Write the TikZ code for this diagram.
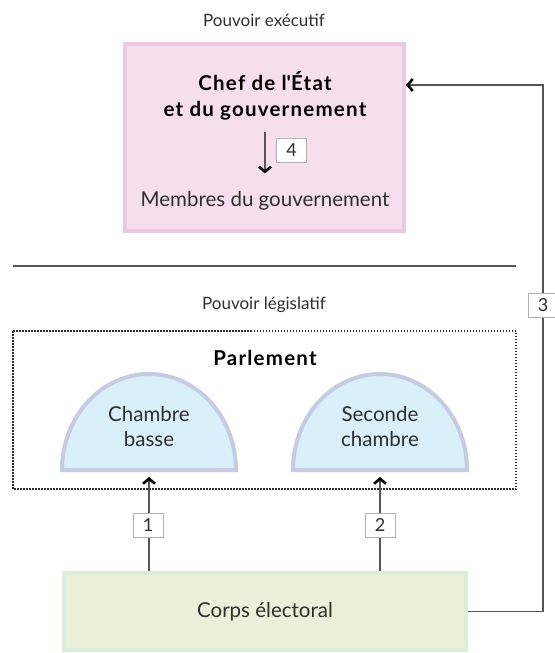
\documentclass[tikz,border=0pt]{standalone}
\usepackage{fontspec}
\setmainfont{Lato}
\usetikzlibrary{arrows.meta}

\definecolor{inkgray}{HTML}{2E2E2E}
\definecolor{linegray}{HTML}{575757}
\definecolor{execfill}{HTML}{F7DEEC}
\definecolor{execedge}{HTML}{EDC8E1}
\definecolor{chamberfill}{HTML}{D9EFF9}
\definecolor{chamberedge}{HTML}{C7CAE3}
\definecolor{votefill}{HTML}{EDF0D8}
\definecolor{voteedge}{HTML}{DCEDD9}

\tikzset{
  link/.style={draw=linegray, line width=1.3pt},
  votearrow/.style={link, -{Straight Barb[length=5pt, width=12pt, line width=2.6pt, color=black]}},
  numbox/.style={draw=gray!60, fill=white, line width=1pt, minimum width=30pt,
    minimum height=24pt, inner sep=0pt, text=inkgray, font=\fontsize{18}{18}\selectfont},
  powerlabel/.style={text=inkgray, font=\fontsize{17}{17}\selectfont},
  maintext/.style={text=inkgray, align=center, inner sep=0pt, font=\fontsize{20.5}{25}\selectfont},
  boldtext/.style={maintext, text=black, font=\fontsize{20.5}{26}\selectfont\bfseries\addfontfeature{LetterSpace=6}}
}

\begin{document}
\begin{tikzpicture}[x=1pt, y=-1pt]
  \useasboundingbox (0,0) rectangle (554,653);

  % Executive power
  \node[powerlabel] (execlabel) at (264,20) {Pouvoir exécutif};
  \node[draw=execedge, fill=execfill, line width=4pt, minimum width=279pt,
    minimum height=187pt] (exec) at (264.5,137.5) {};
  \node[boldtext] (chef) at (265,96) {Chef de l\textquotesingle État\\et du gouvernement};
  \node[maintext] (membres) at (265,201) {Membres du gouvernement};
  \draw[votearrow, shorten <=11pt, shorten >=18pt] (chef.south) -- (chef.south |- membres.north);
  \node[numbox] (n4) at (291.5,150) {4};

  % separator
  \draw[draw=linegray, line width=2pt] (13,266) -- (516,266);

  % Legislative power
  \node[powerlabel] (leglabel) at (264,305) {Pouvoir législatif};
  \draw[draw=inkgray, line width=1.6pt, dash pattern=on 1.5pt off 1.5pt]
    (13,331) rectangle (516,489); % Parlement frame
  \node[boldtext] (parlement) at (265,358) {Parlement};

  \filldraw[draw=chamberedge, fill=chamberfill, line width=4pt]
    (62,470) arc[start angle=180, end angle=360, x radius=87, y radius=96] -- cycle;
  \node[maintext] (basse) at (149,427) {Chambre\\basse};
  \coordinate (basse-foot) at (149,477);

  \filldraw[draw=chamberedge, fill=chamberfill, line width=4pt]
    (293,470) arc[start angle=180, end angle=360, x radius=87, y radius=96] -- cycle;
  \node[maintext] (seconde) at (380,427) {Seconde\\chambre};
  \coordinate (seconde-foot) at (380,477);

  % Electorate
  \node[draw=voteedge, fill=votefill, line width=4pt, minimum width=402pt,
    minimum height=77pt, text=inkgray, font=\fontsize{20.5}{25}\selectfont] (corps) at (265,611.5) {Corps électoral};

  \draw[votearrow] (corps.north -| basse-foot) -- (basse-foot);
  \node[numbox] (n1) at (148,525) {1};
  \draw[votearrow] (corps.north -| seconde-foot) -- (seconde-foot);
  \node[numbox] (n2) at (380,525) {2};

  \coordinate (turn) at (543,85);
  \draw[votearrow] (corps.east) -| (turn) -- (turn -| exec.east);
  \node[numbox] (n3) at (543,305) {3};
\end{tikzpicture}
\end{document}
